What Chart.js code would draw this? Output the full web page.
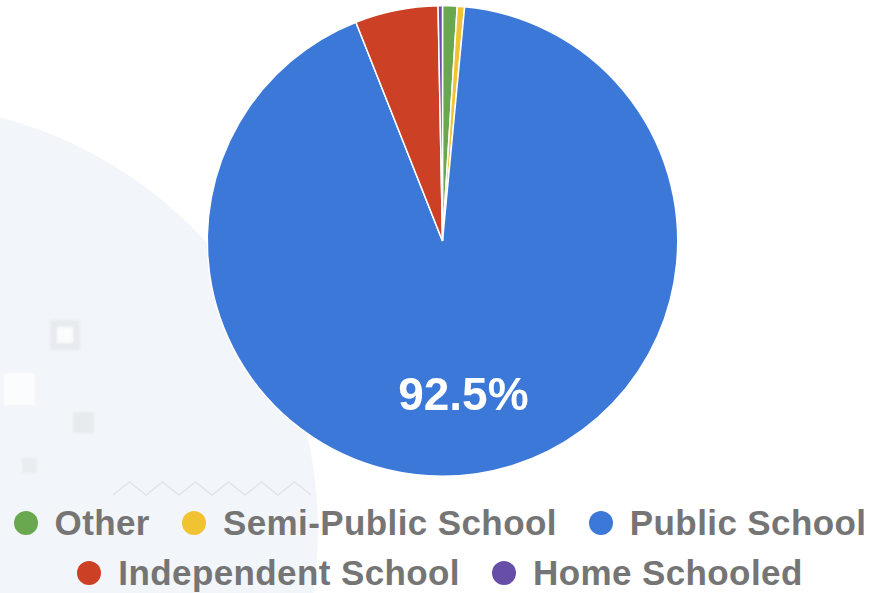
<!DOCTYPE html>
<html>
<head>
<meta charset="utf-8">
<title>School type</title>
<script src="https://cdn.jsdelivr.net/npm/chart.js@4.4.1/dist/chart.umd.min.js"></script>
<style>
    html, body { margin: 0; padding: 0; background: #fff; }
    .wrap { position: relative; width: 874px; height: 593px; overflow: hidden; font-family: "Liberation Sans", Arial, sans-serif; }

    /* background decoration */
    .bgCircle { position: absolute; left: -536px; top: 103px; width: 854px; height: 854px; border-radius: 50%; background: #f2f5f9; }
    .sq { position: absolute; box-sizing: border-box; filter: blur(0.8px); }
    .sq1 { left: 50px; top: 320px; width: 30px; height: 30px; border: 7px solid #e7eaee; background: #fbfcfd; }
    .sq2 { left: 4px; top: 373px; width: 31px; height: 32px; background: #fbfcfe; }
    .sq3 { left: 73px; top: 412px; width: 21px; height: 21px; background: #e8ebee; }
    .sq4 { left: 22px; top: 458px; width: 15px; height: 15px; background: #eaedf0; }
    .zig { position: absolute; left: 0; top: 0; }

    .chartBox { position: absolute; left: 0; top: 0; width: 874px; height: 482px; }

    /* legend */
    .legend { position: absolute; left: 3px; top: 498px; width: 874px; display: flex; flex-wrap: wrap; justify-content: center; column-gap: 32px; }
    .legend .item { display: flex; align-items: center; height: 50px; }
    .legend .dot { width: 24px; height: 24px; border-radius: 50%; margin-right: 17px; }
    .legend .txt { font-weight: bold; font-size: 35px; letter-spacing: 0.4px; color: #757575; line-height: 50px; white-space: nowrap; }
</style>
</head>
<body>
<div class="wrap">
    <div class="bgCircle"></div>
    <div class="sq sq1"></div>
    <div class="sq sq2"></div>
    <div class="sq sq3"></div>
    <div class="sq sq4"></div>
    <svg class="zig" width="874" height="593"><polyline id="zigLine" fill="none" stroke="#e1e4e8" stroke-width="1.5"></polyline></svg>
    <div class="chartBox"><canvas id="chart1"></canvas></div>
    <div class="legend" id="legend1"></div>
</div>

<script>
// school type shares (%)
var labels = ["Other", "Semi-Public School", "Public School", "Independent School", "Home Schooled"];
var shares = [1.0, 0.5, 92.5, 5.7, 0.3];
var sliceColors = ["#6aa84f", "#f1c232", "#3c78d8", "#cc4125", "#674ea7"];

// zigzag decoration
var pts = [];
for (var x = 113, k = 0; x <= 318; x += 16.5, k++) {
    pts.push(x + "," + (k % 2 === 0 ? 495 : 482));
}
document.getElementById("zigLine").setAttribute("points", pts.join(" "));

// percent label inside the big slice
var sliceLabels = {
    id: "sliceLabels",
    afterDatasetsDraw: function (chart) {
        var ctx = chart.ctx;
        var meta = chart.getDatasetMeta(0);
        var data = chart.data.datasets[0].data;
        var total = data.reduce(function (a, b) { return a + b; }, 0);
        ctx.save();
        ctx.fillStyle = "#fff";
        ctx.font = 'bold 46px "Liberation Sans", Arial, sans-serif';
        ctx.textAlign = "center";
        ctx.textBaseline = "middle";
        meta.data.forEach(function (arc, i) {
            var pct = data[i] / total * 100;
            if (pct < 10) return;
            var p = arc.getProps(["x", "y", "startAngle", "endAngle", "outerRadius"], true);
            var mid = (p.startAngle + p.endAngle) / 2;
            var r = p.outerRadius * 0.66;
            ctx.fillText(pct.toFixed(1) + "%", p.x + Math.cos(mid) * r - 1, p.y + Math.sin(mid) * r + 3);
        });
        ctx.restore();
    }
};

new Chart("chart1", {
    type: "pie",
    data: {
        labels: labels,
        datasets: [{
            data: shares,
            backgroundColor: sliceColors,
            borderColor: "#fff",
            borderWidth: 1.5
        }]
    },
    options: {
        responsive: true,
        maintainAspectRatio: false,
        animation: false,
        layout: { padding: { top: 5, bottom: 5, left: 11, right: 0 } },
        plugins: {
            legend: { display: false },
            tooltip: { enabled: false }
        }
    },
    plugins: [sliceLabels]
});

// legend
var legendBox = document.getElementById("legend1");
labels.forEach(function (name, i) {
    var item = document.createElement("div");
    item.className = "item";
    item.innerHTML = '<span class="dot" style="background:' + sliceColors[i] + '"></span><span class="txt">' + name + '</span>';
    legendBox.appendChild(item);
});
</script>
</body>
</html>
